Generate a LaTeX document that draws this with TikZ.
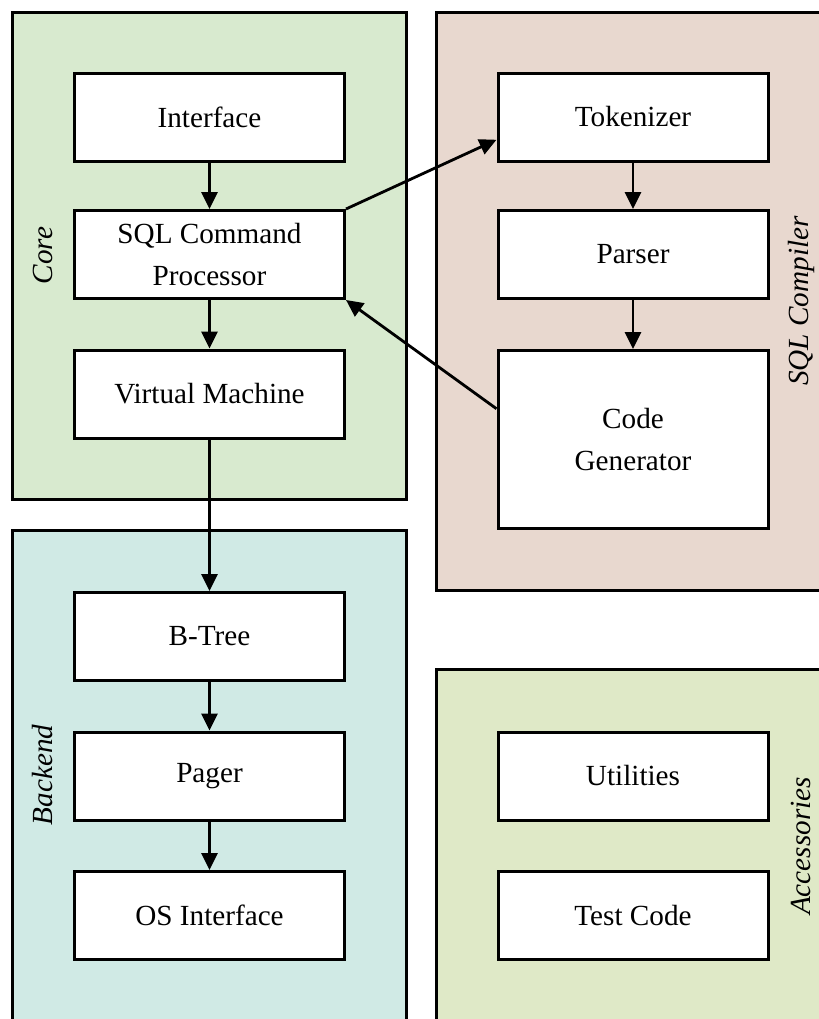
\documentclass[tikz,border=0pt]{standalone}
\usepackage{fontspec}
\setmainfont{Liberation Serif}
\usetikzlibrary{arrows.meta,calc}
\definecolor{corefill}{RGB}{216,234,207}
\definecolor{backfill}{RGB}{208,234,229}
\definecolor{compfill}{RGB}{232,216,207}
\definecolor{accfill}{RGB}{223,233,199}
\tikzset{
  group/.style={draw=black, line width=1.5pt, rectangle, minimum width=197pt, inner sep=0pt},
  grouplabel/.style={rotate=90, font=\fontsize{14.6}{18}\selectfont\itshape, inner sep=0pt},
  module/.style={draw=black, fill=white, line width=1.5pt, rectangle, minimum width=135pt,
    minimum height=44pt, align=center, inner sep=0pt, font=\fontsize{14.6}{21}\selectfont},
  flow/.style={line width=1.4pt, -{Triangle[length=8.5pt,width=8pt]}}
}
\begin{document}
\begin{tikzpicture}[x=0.5pt,y=-0.5pt]
\useasboundingbox (0,0) rectangle (819,1019);
\begin{scope}
\clip (0,0) rectangle (819,1019);
% subsystem frames
\node[group, fill=corefill, minimum height=243.5pt] (core) at (209,255.5) {};
\node[group, fill=backfill, minimum height=245pt] (backend) at (209,775) {};
\node[group, fill=compfill, minimum height=289pt] (compiler) at (633,301) {};
\node[group, fill=accfill, minimum height=177pt] (acc) at (633,846) {};
\end{scope}
% frame titles
\node[grouplabel] (corelbl) at (43,255.5) {Core};
\node[grouplabel] (backlbl) at (43,775) {Backend};
\node[grouplabel] (complbl) at (801,301) {SQL Compiler};
\node[grouplabel] (acclbl) at (801,846) {Accessories};
% modules
\node[module] (iface) at (209.5,117) {Interface};
\node[module] (sqlcp) at (209.5,254.5) {SQL Command\\Processor};
\node[module] (vm) at (209.5,394) {Virtual Machine};
\node[module] (btree) at (209.5,636.5) {B-Tree};
\node[module] (pager) at (209.5,776) {Pager};
\node[module] (osif) at (209.5,915.5) {OS Interface};
\node[module] (tok) at (633,117) {Tokenizer};
\node[module] (parser) at (633,254.5) {Parser};
\node[module, minimum height=89pt] (codegen) at (633,439.5) {Code\\Generator};
\node[module] (util) at (633,776) {Utilities};
\node[module] (test) at (633,915.5) {Test Code};
% data flow
\draw[flow] (iface) -- (sqlcp);
\draw[flow] (sqlcp) -- (vm);
\draw[flow] (vm) -- (btree);
\draw[flow] (btree) -- (pager);
\draw[flow] (pager) -- (osif);
\draw[flow] (tok) -- (parser);
\draw[flow] (parser) -- (codegen);
\draw[flow] (sqlcp.north east) -- ($(tok.north west)!0.75!(tok.south west)$);
\draw[flow] ($(codegen.north west)!0.33!(codegen.south west)$) -- (sqlcp.south east);
\end{tikzpicture}
\end{document}
